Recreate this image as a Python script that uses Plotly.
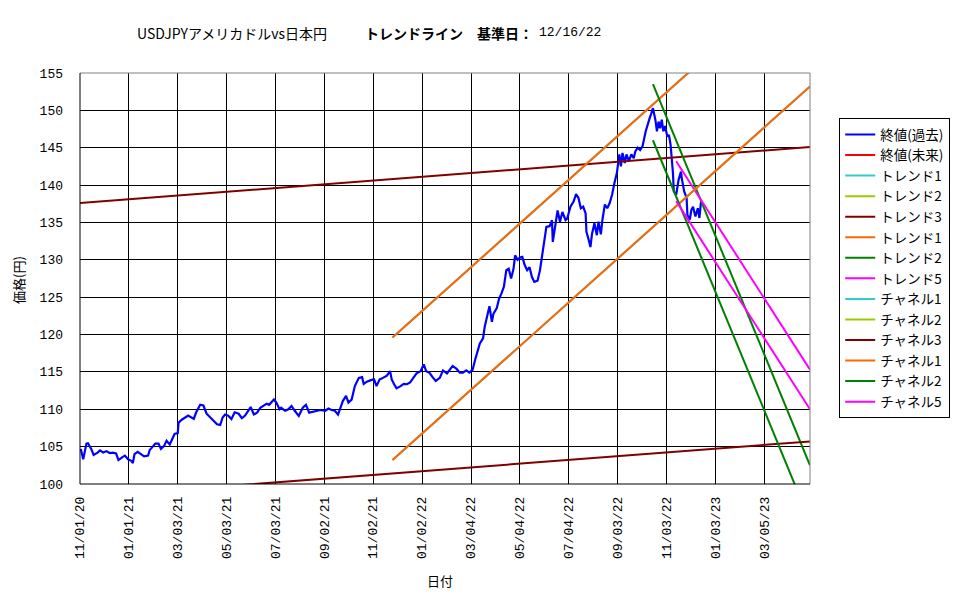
import plotly.graph_objects as go

# ---- data: USD/JPY close ----
dates = [
    "2020-11-02", "2020-11-05", "2020-11-09", "2020-11-11", "2020-11-15", "2020-11-18", "2020-11-23",
    "2020-11-26", "2020-11-30", "2020-12-04", "2020-12-08", "2020-12-12", "2020-12-16", "2020-12-19",
    "2020-12-24", "2020-12-27", "2020-12-31", "2021-01-04", "2021-01-06", "2021-01-08", "2021-01-12",
    "2021-01-16", "2021-01-20", "2021-01-25", "2021-01-27", "2021-01-30", "2021-02-03", "2021-02-07",
    "2021-02-10", "2021-02-14", "2021-02-17", "2021-02-21", "2021-02-24", "2021-02-27", "2021-03-03",
    "2021-03-04", "2021-03-08", "2021-03-12", "2021-03-16", "2021-03-23", "2021-03-26", "2021-03-31",
    "2021-04-04", "2021-04-08", "2021-04-12", "2021-04-17", "2021-04-21", "2021-04-25", "2021-04-28",
    "2021-05-01", "2021-05-05", "2021-05-09", "2021-05-13", "2021-05-18", "2021-05-22", "2021-05-26",
    "2021-05-29", "2021-06-02", "2021-06-06", "2021-06-10", "2021-06-14", "2021-06-18", "2021-06-22",
    "2021-06-25", "2021-06-28", "2021-07-01", "2021-07-04", "2021-07-08", "2021-07-10", "2021-07-15",
    "2021-07-19", "2021-07-23", "2021-07-27", "2021-08-01", "2021-08-06", "2021-08-10", "2021-08-14",
    "2021-08-19", "2021-08-23", "2021-08-28", "2021-09-03", "2021-09-07", "2021-09-11", "2021-09-15",
    "2021-09-19", "2021-09-23", "2021-09-25", "2021-09-29", "2021-10-02", "2021-10-06", "2021-10-10",
    "2021-10-15", "2021-10-19", "2021-10-21", "2021-10-25", "2021-10-30", "2021-11-03", "2021-11-06",
    "2021-11-10", "2021-11-14", "2021-11-19", "2021-11-23", "2021-11-25", "2021-11-28", "2021-12-01",
    "2021-12-06", "2021-12-10", "2021-12-14", "2021-12-18", "2021-12-22", "2021-12-26", "2021-12-31",
    "2022-01-04", "2022-01-07", "2022-01-11", "2022-01-15", "2022-01-19", "2022-01-24", "2022-01-28",
    "2022-02-02", "2022-02-06", "2022-02-09", "2022-02-14", "2022-02-18", "2022-02-22", "2022-02-26",
    "2022-03-02", "2022-03-06", "2022-03-09", "2022-03-12", "2022-03-15", "2022-03-19", "2022-03-21",
    "2022-03-24", "2022-03-27", "2022-03-30", "2022-04-01", "2022-04-05", "2022-04-08", "2022-04-11",
    "2022-04-14", "2022-04-17", "2022-04-20", "2022-04-23", "2022-04-26", "2022-04-28", "2022-05-01",
    "2022-05-04", "2022-05-07", "2022-05-10", "2022-05-13", "2022-05-16", "2022-05-19", "2022-05-22",
    "2022-05-26", "2022-05-29", "2022-06-01", "2022-06-03", "2022-06-06", "2022-06-10", "2022-06-13",
    "2022-06-14", "2022-06-18", "2022-06-20", "2022-06-23", "2022-06-26", "2022-06-30", "2022-07-02",
    "2022-07-06", "2022-07-10", "2022-07-13", "2022-07-16", "2022-07-19", "2022-07-22", "2022-07-25",
    "2022-07-26", "2022-07-29", "2022-07-31", "2022-08-02", "2022-08-05", "2022-08-08", "2022-08-10",
    "2022-08-13", "2022-08-15", "2022-08-18", "2022-08-21", "2022-08-24", "2022-08-27", "2022-08-30",
    "2022-09-02", "2022-09-05", "2022-09-07", "2022-09-09", "2022-09-12", "2022-09-14", "2022-09-17",
    "2022-09-20", "2022-09-23", "2022-09-25", "2022-09-28", "2022-10-01", "2022-10-04", "2022-10-08",
    "2022-10-11", "2022-10-13", "2022-10-15", "2022-10-17", "2022-10-20", "2022-10-22", "2022-10-24",
    "2022-10-26", "2022-10-28", "2022-10-30", "2022-11-01", "2022-11-04", "2022-11-06", "2022-11-08",
    "2022-11-11", "2022-11-12", "2022-11-15", "2022-11-18", "2022-11-21", "2022-11-22", "2022-11-25",
    "2022-11-28", "2022-11-29", "2022-12-02", "2022-12-04", "2022-12-06", "2022-12-09", "2022-12-12",
    "2022-12-14", "2022-12-16",
]
close = [
    104.7, 103.3, 105.4, 105.45, 104.7, 103.9, 104.2,
    104.5, 104.2, 104.4, 104.15, 104.2, 104.1, 103.2,
    103.6, 103.8, 103.3, 103.1, 102.8, 104.0, 104.3,
    104.0, 103.7, 103.8, 104.55, 104.9, 105.4, 105.4,
    104.7, 105.1, 105.8, 105.3, 106.0, 106.7, 106.8,
    108.2, 108.6, 108.9, 109.15, 108.7, 109.6, 110.6,
    110.5, 109.4, 109.0, 108.5, 108.0, 107.9, 108.9,
    109.3, 109.15, 108.7, 109.6, 109.4, 108.8, 109.15,
    109.7, 110.3, 109.3, 109.55, 110.2, 110.45, 110.75,
    110.6, 110.9, 111.3, 110.9, 110.0, 110.2, 109.8,
    110.0, 110.45, 109.8, 109.1, 110.2, 110.6, 109.55,
    109.7, 109.8, 109.9, 109.8, 110.1, 109.9, 109.8,
    109.3, 110.45, 111.1, 111.8, 110.9, 111.3, 113.1,
    114.2, 114.3, 113.4, 113.7, 113.9, 114.0, 113.1,
    114.0, 114.2, 114.5, 115.1, 114.0, 113.35, 112.8,
    113.1, 113.4, 113.35, 113.6, 114.2, 114.8, 115.1,
    116.0, 115.1, 114.9, 114.3, 113.8, 114.2, 115.2,
    114.8, 115.4, 115.8, 115.4, 114.9, 114.9, 115.2,
    114.9, 115.3, 116.6, 117.9, 118.8, 119.5, 121.0,
    122.4, 123.8, 121.7, 122.8, 123.5, 124.8, 125.5,
    126.4, 128.6, 128.8, 127.5, 128.8, 130.6, 130.0,
    130.3, 130.4, 129.3, 128.6, 129.0, 127.7, 127.05,
    127.2, 128.6, 130.8, 132.0, 134.4, 134.5, 135.3,
    132.4, 135.1, 136.6, 135.1, 136.4, 135.3, 135.5,
    137.1, 137.8, 138.8, 138.3, 136.9, 137.1, 136.2,
    133.75, 132.6, 131.7, 133.5, 134.9, 133.3, 135.1,
    133.4, 135.4, 137.4, 136.9, 137.6, 138.7, 140.3,
    141.6, 144.1, 142.5, 144.3, 142.95, 144.1, 143.2,
    144.1, 143.6, 144.5, 145.0, 144.7, 145.2, 147.2,
    148.5, 149.0, 149.6, 150.3, 148.75, 147.2, 148.5,
    147.6, 148.75, 147.2, 147.9, 146.5, 146.7, 145.4,
    141.6, 139.15, 138.7, 140.7, 141.8, 140.9, 139.15,
    138.3, 136.0, 135.4, 136.7, 137.1, 135.8, 136.9,
    135.6, 137.8,
]

# ---- trend / channel lines (endpoints) ----
x_start = "2020-11-01"
x_end = "2023-05-01"
line3_x = [x_start, x_end]
trend3_y = [137.6, 145.1]
chan3_y = [98.2, 105.7]
line1_x = ["2021-11-26", x_end]
trend1_y = [119.6, 169.6]
chan1_y = [103.2, 153.2]
line2_x = ["2022-10-17", x_end]
trend2_y = [153.5, 102.5]
chan2_y = [146.0, 95.0]
line5_x = ["2022-11-15", x_end]
trend5_y = [143.2, 115.3]
chan5_y = [137.85, 110.0]

tick_dates = ["2020-11-01", "2021-01-01", "2021-03-03", "2021-05-03", "2021-07-03",
              "2021-09-02", "2021-11-02", "2022-01-02", "2022-03-04", "2022-05-04",
              "2022-07-04", "2022-09-03", "2022-11-03", "2023-01-03", "2023-03-05"]
tick_labels = ["11/01/20", "01/01/21", "03/03/21", "05/03/21", "07/03/21",
               "09/02/21", "11/02/21", "01/02/22", "03/04/22", "05/04/22",
               "07/04/22", "09/03/22", "11/03/22", "01/03/23", "03/05/23"]

BLUE = "#0000FF"
RED = "#FF0000"
CYAN = "#33CCCC"
YGREEN = "#99CC00"
BROWN = "#800000"
ORANGE = "#FF6600"
GREEN = "#008000"
MAGENTA = "#FF00FF"

JP = "Noto Sans CJK JP"
MONO = "Liberation Mono"

fig = go.Figure()


def add(name, x, y, color, width=2):
    fig.add_trace(go.Scatter(x=x, y=y, mode="lines", name=name,
                             line=dict(color=color, width=width)))


add("終値(過去)", dates, close, BLUE, 2.2)
add("終値(未来)", [None], [None], RED)
add("トレンド1", line1_x, trend1_y, CYAN)
add("トレンド2", [None], [None], YGREEN)
add("トレンド3", line3_x, trend3_y, BROWN)
add("トレンド1", line1_x, trend1_y, ORANGE)
add("トレンド2", line2_x, trend2_y, GREEN)
add("トレンド5", line5_x, trend5_y, MAGENTA)
add("チャネル1", line1_x, chan1_y, CYAN)
add("チャネル2", [None], [None], YGREEN)
add("チャネル3", line3_x, chan3_y, BROWN)
add("チャネル1", line1_x, chan1_y, ORANGE)
add("チャネル2", line2_x, chan2_y, GREEN)
add("チャネル5", line5_x, chan5_y, MAGENTA)

fig.update_layout(
    width=975, height=599,
    margin=dict(l=80, r=165, t=73, b=115),
    paper_bgcolor="white", plot_bgcolor="white",
    showlegend=True,
    legend=dict(x=1.04, y=0.89, xanchor="left", yanchor="top",
                bordercolor="black", borderwidth=1, bgcolor="white",
                font=dict(family=JP, size=13.5, color="black"),
                tracegroupgap=0, itemwidth=30),
    font=dict(family=JP, color="black"),
)

fig.update_xaxes(
    type="date", range=[x_start, x_end],
    tickmode="array", tickvals=tick_dates, ticktext=tick_labels,
    tickangle=-90, tickfont=dict(family=MONO, size=13, color="black"),
    showgrid=True, gridcolor="black", gridwidth=1,
    showline=False, zeroline=False, ticks="", ticklabelstandoff=9,
)
fig.update_yaxes(
    range=[100, 155], dtick=5, tick0=100,
    tickfont=dict(family=MONO, size=13, color="black"),
    showgrid=True, gridcolor="black", gridwidth=1,
    showline=False, zeroline=False, ticks="", ticklabelstandoff=16,
)

# plot-area border: left/bottom black, top/right gray
fig.add_shape(type="line", xref="paper", yref="paper", x0=0, x1=1, y0=1, y1=1,
              line=dict(color="#808080", width=1))
fig.add_shape(type="line", xref="paper", yref="paper", x0=1, x1=1, y0=0, y1=1,
              line=dict(color="#808080", width=1))
fig.add_shape(type="line", xref="paper", yref="paper", x0=0, x1=0, y0=0, y1=1,
              line=dict(color="black", width=1))
fig.add_shape(type="line", xref="paper", yref="paper", x0=0, x1=1, y0=0, y1=0,
              line=dict(color="black", width=1))

ty = (484 - 33) / 411
fig.add_annotation(text="USDJPYアメリカドルvs日本円", xref="paper", yref="paper",
                   x=(135 - 80) / 730, y=ty, xanchor="left", yanchor="middle",
                   showarrow=False, font=dict(family=JP, size=14, color="black"))
fig.add_annotation(text="<b>トレンドライン　基準日：</b>", xref="paper", yref="paper",
                   x=(363 - 80) / 730, y=ty, xanchor="left", yanchor="middle",
                   showarrow=False, font=dict(family=JP, size=14, color="black"))
fig.add_annotation(text="12/16/22", xref="paper", yref="paper",
                   x=(537 - 80) / 730, y=ty, xanchor="left", yanchor="middle",
                   showarrow=False, font=dict(family=MONO, size=13, color="black"))
fig.add_annotation(text="価格(円)", xref="paper", yref="paper",
                   x=(18 - 80) / 730, y=(484 - 280) / 411, xanchor="center", yanchor="middle",
                   textangle=-90, showarrow=False, font=dict(family=JP, size=13, color="black"))
fig.add_annotation(text="日付", xref="paper", yref="paper",
                   x=(440 - 80) / 730, y=(484 - 580) / 411, xanchor="center", yanchor="middle",
                   showarrow=False, font=dict(family=JP, size=13, color="black"))

fig.write_html("out.html")
